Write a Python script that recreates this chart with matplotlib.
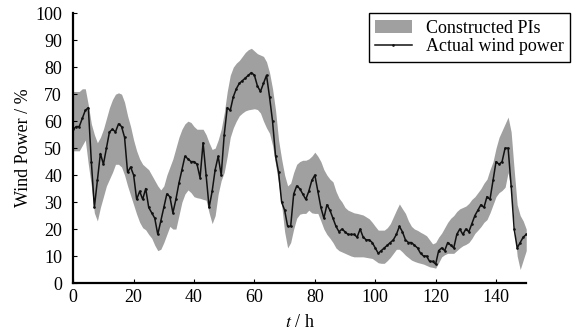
import numpy as np
from matplotlib import pyplot as plt
from matplotlib.patches import Patch
from matplotlib.lines import Line2D

# wind power prediction intervals vs actual power, 151 hours

hours = np.arange(0, 151)

actual = [
    57, 58, 58, 61, 64, 65, 45, 28, 38, 48,
    44, 50, 56, 57, 56, 59, 58, 54, 41, 43,
    40, 31, 34, 31, 35, 28, 26, 24, 18, 23,
    28, 33, 32, 26, 31, 37, 42, 47, 46, 45,
    45, 44, 39, 52, 40, 28, 34, 42, 47, 40,
    55, 65, 64, 69, 72, 74, 75, 76, 77, 78,
    77, 73, 71, 74, 77, 69, 60, 47, 41, 30,
    27, 21, 21, 33, 36, 35, 33, 31, 34, 38,
    40, 34, 28, 24, 29, 27, 24, 21, 19, 20,
    19, 18, 18, 18, 17, 20, 17, 16, 16, 15,
    13, 11, 12, 13, 14, 15, 16, 18, 21, 19,
    16, 15, 15, 14, 13, 11, 10, 10, 8, 8,
    7, 12, 13, 12, 15, 14, 13, 18, 20, 18,
    20, 19, 22, 25, 27, 29, 28, 32, 31, 38,
    45, 44, 45, 50, 50, 36, 20, 13, 15, 17,
    18,
]

upper = [
    71, 71, 71, 72, 72, 66, 59, 55, 52, 54,
    57, 61, 65, 68, 70, 70.5, 70, 67, 62, 58,
    53, 49, 46, 44, 43, 42, 40, 38, 36, 34.5,
    36, 40, 43, 46, 50, 54, 57, 59, 60, 59.5,
    58, 57, 57, 57, 55, 52, 49.5, 50, 53, 57,
    63, 71, 77, 80, 81.5, 82.5, 84, 85.5, 86.5, 87,
    86, 85, 84.5, 84, 82, 78, 72, 64, 53, 46,
    40, 36, 37, 41, 44, 45, 45.5, 45.5, 46, 47,
    48.5, 47, 45, 42, 40, 38.5, 37.5, 34, 31.5, 30,
    28, 27, 26.5, 26, 25.8, 25.5, 25.2, 24.5, 23.8, 22.5,
    21, 19.6, 19.6, 19.6, 20.5, 22, 24.5, 27, 29.3, 27.5,
    25.8, 23, 21, 20, 19.5, 18.8, 18.2, 17.5, 16, 14.5,
    15, 17, 18.5, 20.5, 22.5, 24, 25, 26.5, 27.5, 28,
    28.5, 29.5, 31, 32, 33.5, 35, 37, 38.5, 42, 45,
    50, 54, 56.5, 59, 61.5, 56, 42, 29, 25, 23,
    20,
]

lower = [
    49, 49, 49, 51, 53, 44, 36, 26, 23, 28,
    32, 36, 38.5, 41, 44, 44, 43, 40, 36, 32.5,
    29, 25.5, 22.5, 20.5, 19.7, 18, 16.6, 14, 12, 12.5,
    15, 18, 21, 20, 20, 25, 30, 33, 34.5, 33.5,
    32, 31.6, 31.4, 31, 30.7, 26, 22, 25, 33, 38,
    41, 47, 54, 57.5, 60, 62, 63, 63.8, 64.2, 64.4,
    64.6, 64.3, 63, 60, 57.5, 55.5, 51, 44, 37, 29,
    19, 13, 15, 20, 24, 25.5, 25.8, 25.8, 27, 26,
    25.8, 25.8, 23, 20, 18, 16.6, 15, 13, 12, 11.5,
    11, 10.5, 10, 9.7, 9.7, 9.7, 9.7, 9.5, 9.3, 9.1,
    8.3, 7.5, 7.3, 7.3, 8.3, 9.5, 11, 12.5, 12.5, 11.5,
    10.3, 9.4, 8.5, 8, 7.6, 7.3, 7, 6.5, 6, 5.8,
    5.5, 7.5, 9.7, 10.5, 11, 11, 11, 12, 13, 13.8,
    14.3, 15, 16.5, 18.4, 19.6, 20.9, 22.5, 23.5, 26, 29,
    32, 33.5, 34.3, 35.5, 41, 34, 22, 10, 5, 8.5,
    12,
]

y_ticks = [0, 10, 20, 30, 40, 50, 60, 70, 80, 90, 100]
x_ticks = [0, 20, 40, 60, 80, 100, 120, 140]

plt.rcParams['font.family'] = ['Liberation Serif', 'DejaVu Serif']
plt.rcParams['mathtext.fontset'] = 'stix'

fig = plt.figure(figsize=(5.72, 3.31), dpi=100)
ax = fig.add_axes([0.128, 0.145, 0.792, 0.815])

band_color = '#a0a0a0'
ax.fill_between(hours, lower, upper, color=band_color, linewidth=0)
ax.plot(hours, actual, color='#111111', linewidth=1.1,
        marker='.', markersize=1.8)

ax.set_xlim(0, 150)
ax.set_ylim(0, 100)
ax.set_xticks(x_ticks)
ax.set_yticks(y_ticks)
ax.tick_params(direction='in', length=3, labelsize=13, width=0.8)
ax.tick_params(axis='y', pad=8)
ax.tick_params(axis='x', pad=4)
ax.spines['top'].set_visible(False)
ax.spines['right'].set_visible(False)
ax.spines['left'].set_linewidth(1.6)
ax.spines['bottom'].set_linewidth(1.6)

ax.set_xlabel('$t$ / h', fontsize=13, labelpad=6)
ax.set_ylabel('Wind Power / %', fontsize=13, labelpad=2)

handles = [
    Patch(facecolor=band_color, edgecolor='none'),
    Line2D([], [], color='#111111', linewidth=1.1, marker='.', markersize=1.8),
]
leg = ax.legend(handles, ['Constructed PIs', 'Actual wind power'],
                loc='upper right', bbox_to_anchor=(1.097, 1.0),
                borderaxespad=0, fontsize=13, fancybox=False,
                framealpha=1, edgecolor='black', handlelength=2.0,
                labelspacing=0.1, borderpad=0.35)
leg.get_frame().set_linewidth(1.0)

fig.savefig('out.png', dpi=100)
